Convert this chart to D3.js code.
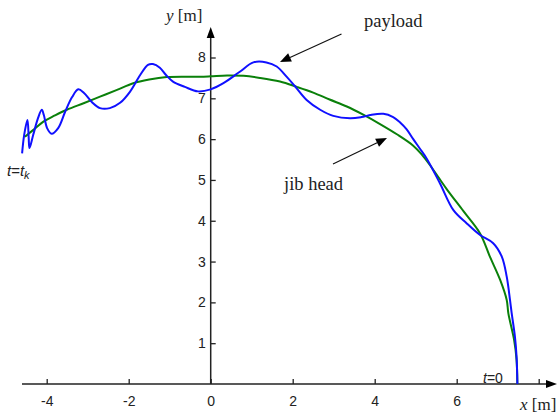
<!DOCTYPE html>
<html>
<head>
<meta charset="utf-8">
<script src="https://cdn.jsdelivr.net/npm/d3@7"></script>
<style>
  html, body { margin: 0; padding: 0; background: #fff; }
  svg { display: block; }
</style>
</head>
<body>
<svg id="chart" width="558" height="413"></svg>
<script>
// ---- data ----
const xTicks = [-4, -2, 0, 2, 4, 6, 8];
const xTickLabels = ["-4", "-2", "0", "2", "4", "6", ""];
const yTicks = [1, 2, 3, 4, 5, 6, 7, 8];
const yTickLabels = ["1", "2", "3", "4", "5", "6", "7", "8"];

const payloadX = [-4.60, -4.55, -4.47, -4.44, -4.42, -4.33, -4.21, -4.12, -4.07, -3.99, -3.88, -3.72, -3.55, -3.38, -3.23, -3.09, -2.90, -2.70, -2.46, -2.21, -1.97, -1.72, -1.53, -1.41, -1.24, -1.09, -0.92, -0.63, -0.31, 0.00, 0.31, 0.71, 1.04, 1.36, 1.61, 1.85, 2.06, 2.34, 2.67, 2.99, 3.40, 3.68, 3.89, 4.21, 4.45, 4.62, 4.78, 4.94, 5.10, 5.27, 5.59, 5.92, 6.24, 6.57, 6.89, 7.10, 7.22, 7.30, 7.34, 7.42, 7.46, 7.48];
const payloadY = [5.65, 6.10, 6.47, 6.05, 5.78, 6.10, 6.52, 6.72, 6.59, 6.27, 6.13, 6.27, 6.67, 7.03, 7.22, 7.13, 6.91, 6.76, 6.76, 6.89, 7.16, 7.57, 7.82, 7.84, 7.75, 7.57, 7.41, 7.28, 7.17, 7.22, 7.37, 7.65, 7.88, 7.88, 7.78, 7.53, 7.29, 6.96, 6.72, 6.57, 6.51, 6.54, 6.59, 6.62, 6.54, 6.41, 6.24, 6.00, 5.77, 5.52, 4.92, 4.26, 3.94, 3.65, 3.45, 3.12, 2.63, 2.06, 1.74, 1.16, 0.67, 0.00];

const jibX = [-4.53, -4.30, -4.08, -3.80, -3.51, -3.10, -2.70, -2.30, -1.89, -1.50, -1.07, -0.60, -0.26, 0.00, 0.40, 0.80, 1.20, 1.69, 2.10, 2.50, 2.90, 3.32, 3.72, 4.13, 4.54, 4.94, 5.15, 5.35, 5.55, 5.76, 6.16, 6.57, 6.81, 7.06, 7.22, 7.26, 7.40, 7.46, 7.48];
const jibY = [6.06, 6.25, 6.43, 6.58, 6.72, 6.88, 7.04, 7.20, 7.37, 7.46, 7.52, 7.53, 7.53, 7.54, 7.56, 7.55, 7.50, 7.41, 7.28, 7.14, 6.97, 6.80, 6.60, 6.37, 6.12, 5.84, 5.62, 5.36, 5.07, 4.77, 4.24, 3.69, 3.12, 2.55, 2.06, 1.73, 1.08, 0.59, 0.00];

// ---- layout ----
const svg = d3.select("#chart");
const x = d3.scaleLinear().domain([-4, 8]).range([46.7, 538.7]);
const y = d3.scaleLinear().domain([0, 8]).range([384, 57.5]);
const axisColor = "#222";
const sans = "Liberation Sans, Arial, sans-serif";
const serif = "Liberation Serif, Times New Roman, serif";

// x axis
const gx = svg.append("g").attr("transform", `translate(0,${y(0)})`)
  .call(d3.axisBottom(x).tickValues(xTicks)
    .tickFormat((d, i) => xTickLabels[i])
    .tickSizeInner(-5).tickSizeOuter(0).tickPadding(12));
gx.select(".domain").remove();
gx.selectAll(".tick line").attr("stroke", axisColor).attr("stroke-width", 1.3);
gx.selectAll(".tick text").attr("font-family", sans).attr("font-size", 14).attr("fill", "#222");

// y axis
const gy = svg.append("g").attr("transform", `translate(${x(0)},0)`)
  .call(d3.axisLeft(y).tickValues(yTicks)
    .tickFormat((d, i) => yTickLabels[i])
    .tickSizeInner(-5).tickSizeOuter(0).tickPadding(5));
gy.select(".domain").remove();
gy.selectAll(".tick line").attr("stroke", axisColor).attr("stroke-width", 1.3);
gy.selectAll(".tick text").attr("font-family", sans).attr("font-size", 14).attr("fill", "#222");

// axis lines with arrows
svg.append("line").attr("x1", 22).attr("y1", y(0)).attr("x2", 548).attr("y2", y(0))
  .attr("stroke", axisColor).attr("stroke-width", 1.5);
svg.append("path").attr("d", `M557,${y(0)} L546,${y(0) - 4} L546,${y(0) + 4} Z`).attr("fill", "#000");
svg.append("line").attr("x1", x(0)).attr("y1", y(0)).attr("x2", x(0)).attr("y2", 36)
  .attr("stroke", axisColor).attr("stroke-width", 1.5);
svg.append("path").attr("d", `M${x(0)},27 L${x(0) - 4},38 L${x(0) + 4},38 Z`).attr("fill", "#000");

// lines
const line = d3.line().x(d => x(d[0])).y(d => y(d[1])).curve(d3.curveCatmullRom.alpha(0.5));
svg.append("path").datum(jibX.map((v, i) => [v, jibY[i]]))
  .attr("d", line).attr("fill", "none").attr("stroke", "#0a800a").attr("stroke-width", 2);
svg.append("path").datum(payloadX.map((v, i) => [v, payloadY[i]]))
  .attr("d", line).attr("fill", "none").attr("stroke", "#1010ff").attr("stroke-width", 2);

// axis labels
const yl = svg.append("text").attr("x", 166).attr("y", 21).attr("font-family", serif).attr("font-size", 17).attr("fill", "#222");
yl.append("tspan").attr("font-style", "italic").text("y");
yl.append("tspan").text(" [m]");
const xl = svg.append("text").attr("x", 520).attr("y", 410).attr("font-family", serif).attr("font-size", 17).attr("fill", "#222");
xl.append("tspan").attr("font-style", "italic").text("x");
xl.append("tspan").text(" [m]");

// annotations
svg.append("text").attr("x", 364).attr("y", 27).attr("font-family", serif).attr("font-size", 18.5).attr("fill", "#222").text("payload");
svg.append("text").attr("x", 284).attr("y", 190).attr("font-family", serif).attr("font-size", 18.5).attr("fill", "#222").text("jib head");

function arrow(x1, y1, x2, y2) {
  const ang = Math.atan2(y2 - y1, x2 - x1);
  const L = 11, W = 4.5;
  const bx = x2 - L * Math.cos(ang), by = y2 - L * Math.sin(ang);
  svg.append("line").attr("x1", x1).attr("y1", y1).attr("x2", bx).attr("y2", by)
    .attr("stroke", "#111").attr("stroke-width", 1.2);
  const px = -Math.sin(ang) * W, py = Math.cos(ang) * W;
  svg.append("path").attr("d", `M${x2},${y2} L${bx + px},${by + py} L${bx - px},${by - py} Z`).attr("fill", "#000");
}
arrow(341.5, 34, 280, 62);
arrow(333, 164, 387, 138);

// time labels
const tk = svg.append("text").attr("x", 7).attr("y", 176).attr("font-family", sans).attr("font-size", 15).attr("fill", "#222");
tk.append("tspan").attr("font-style", "italic").text("t");
tk.append("tspan").text("=");
tk.append("tspan").attr("font-style", "italic").text("t");
tk.append("tspan").attr("font-style", "italic").attr("font-size", 11).attr("dy", 3).text("k");
const t0 = svg.append("text").attr("x", 483).attr("y", 383).attr("font-family", sans).attr("font-size", 14).attr("fill", "#222");
t0.append("tspan").attr("font-style", "italic").text("t");
t0.append("tspan").text("=0");
</script>
</body>
</html>
